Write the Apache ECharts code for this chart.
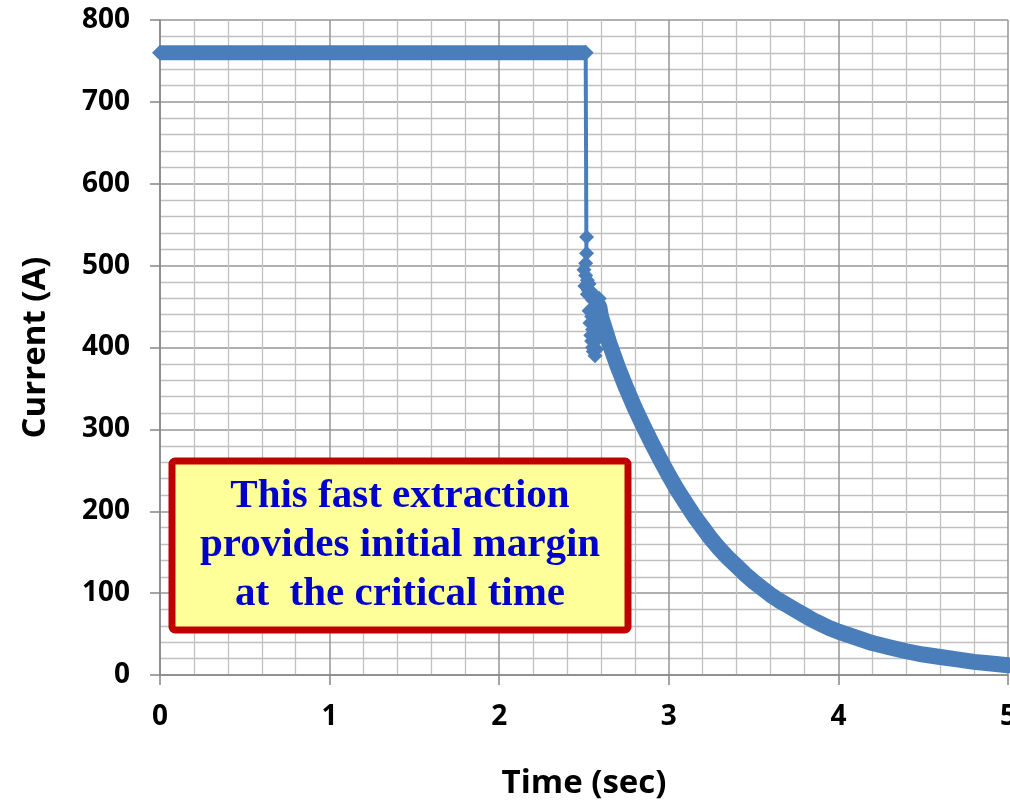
<!DOCTYPE html>
<html>
<head>
<meta charset="utf-8">
<script src="https://cdn.jsdelivr.net/npm/echarts@6/dist/echarts.min.js"></script>
<style>
  body { margin: 0; background: #fff; }
  #chart { width: 1010px; height: 805px; }
</style>
</head>
<body>
<div id="chart"></div>
<script>
// flat part before the extraction (sec, A)
var plateauTime = [0, 2.51]
var plateauCurrent = [760, 760]

// thin vertical drop at the extraction
var dropTime = [2.51, 2.515, 2.515]
var dropCurrent = [760, 760, 470]

// scattered points right after the drop
var burstTime = [2.515, 2.515, 2.51, 2.50, 2.51, 2.52, 2.505, 2.525, 2.52, 2.53, 2.54, 2.545, 2.55, 2.59,
  2.53, 2.545, 2.535, 2.55, 2.54, 2.545, 2.55, 2.555, 2.565, 2.575, 2.58, 2.57, 2.585, 2.56]
var burstCurrent = [535, 515, 503, 495, 488, 482, 475, 470, 465, 478, 462, 468, 458, 460,
  445, 438, 430, 422, 415, 408, 400, 395, 390, 398, 410, 425, 440, 450]

// decay after the extraction
var decayTime = [2.59, 2.6, 2.65, 2.7, 2.75, 2.8, 2.85, 2.9, 2.95, 3.0, 3.05, 3.1, 3.15, 3.2, 3.25,
  3.3, 3.35, 3.4, 3.45, 3.5, 3.55, 3.6, 3.65, 3.7, 3.75, 3.8, 3.85, 3.9, 3.95, 4.0,
  4.1, 4.2, 4.3, 4.4, 4.5, 4.6, 4.7, 4.8, 4.9, 5.0]
var decayCurrent = [450, 438, 405, 376, 350, 326, 304, 283, 263, 244, 226, 210, 194, 180, 166,
  154, 143, 133, 123, 114, 106, 98, 91, 85, 79, 73, 67, 62, 57, 53,
  46, 39, 34, 29, 25, 22, 19, 16, 14, 12]

var xTicks = [0, 1, 2, 3, 4, 5]
var yTicks = [0, 100, 200, 300, 400, 500, 600, 700, 800]

var note = ['This fast extraction', 'provides initial margin', 'at  the critical time']

function pairs(xs, ys) {
  return xs.map(function (x, i) { return [x, ys[i]] })
}

var blue = '#4a7ebb'
var labelFont = { fontFamily: 'Open Sans', fontWeight: 'bold', fontSize: 28, color: '#000' }

var chart = echarts.init(document.getElementById('chart'))

chart.setOption({
  animation: false,
  grid: { left: 160, right: 2, top: 20, bottom: 130, outerBoundsMode: 'none' },
  xAxis: {
    type: 'value',
    min: xTicks[0],
    max: xTicks[xTicks.length - 1],
    interval: 1,
    name: 'Time (sec)',
    nameLocation: 'middle',
    nameGap: 92,
    nameTextStyle: { fontFamily: 'Open Sans', fontWeight: 'bold', fontSize: 33, color: '#000' },
    axisLine: { show: true, lineStyle: { color: '#868686', width: 1.5 } },
    axisTick: { show: true, length: 10, lineStyle: { color: '#868686', width: 1.5 } },
    axisLabel: Object.assign({ margin: 28 }, labelFont),
    splitLine: { show: true, lineStyle: { color: '#969696', width: 1.5 } },
    minorTick: { show: false, splitNumber: 5 },
    minorSplitLine: { show: true, lineStyle: { color: '#c0c0c0', width: 1.3 } }
  },
  yAxis: {
    type: 'value',
    min: yTicks[0],
    max: yTicks[yTicks.length - 1],
    interval: 100,
    name: 'Current (A)',
    nameLocation: 'middle',
    nameGap: 108,
    nameRotate: 90,
    nameTextStyle: { fontFamily: 'Open Sans', fontWeight: 'bold', fontSize: 33, color: '#000' },
    axisLine: { show: true, lineStyle: { color: '#868686', width: 1.5 } },
    axisTick: { show: true, length: 10, lineStyle: { color: '#868686', width: 1.5 } },
    axisLabel: Object.assign({ margin: 30 }, labelFont),
    splitLine: { show: true, lineStyle: { color: '#969696', width: 1.5 } },
    minorTick: { show: false, splitNumber: 5 },
    minorSplitLine: { show: true, lineStyle: { color: '#c0c0c0', width: 1.3 } }
  },
  series: [
    {
      type: 'line',
      data: pairs(dropTime, dropCurrent),
      showSymbol: false,
      lineStyle: { color: blue, width: 4 },
      z: 2
    },
    {
      type: 'line',
      data: pairs(plateauTime, plateauCurrent),
      symbol: 'diamond',
      symbolSize: 16,
      showSymbol: true,
      itemStyle: { color: blue },
      lineStyle: { color: blue, width: 15, cap: 'butt' },
      z: 3
    },
    {
      type: 'scatter',
      data: pairs(burstTime, burstCurrent),
      symbol: 'diamond',
      symbolSize: 15,
      itemStyle: { color: blue, opacity: 1 },
      z: 3
    },
    {
      type: 'line',
      data: pairs(decayTime, decayCurrent),
      smooth: false,
      showSymbol: false,
      lineStyle: { color: blue, width: 16, cap: 'round', join: 'round' },
      z: 3
    }
  ],
  graphic: [
    {
      type: 'rect',
      shape: { x: 172, y: 461, width: 456, height: 169, r: 3 },
      style: { fill: '#ffff99', stroke: '#c00000', lineWidth: 7 },
      z: 10
    },
    {
      type: 'text',
      x: 400,
      y: 545,
      style: {
        text: note.join('\n'),
        font: 'bold 41px "Liberation Serif"',
        fill: '#0000cc',
        align: 'center',
        verticalAlign: 'middle',
        lineHeight: 49
      },
      z: 11
    }
  ]
})
</script>
</body>
</html>
